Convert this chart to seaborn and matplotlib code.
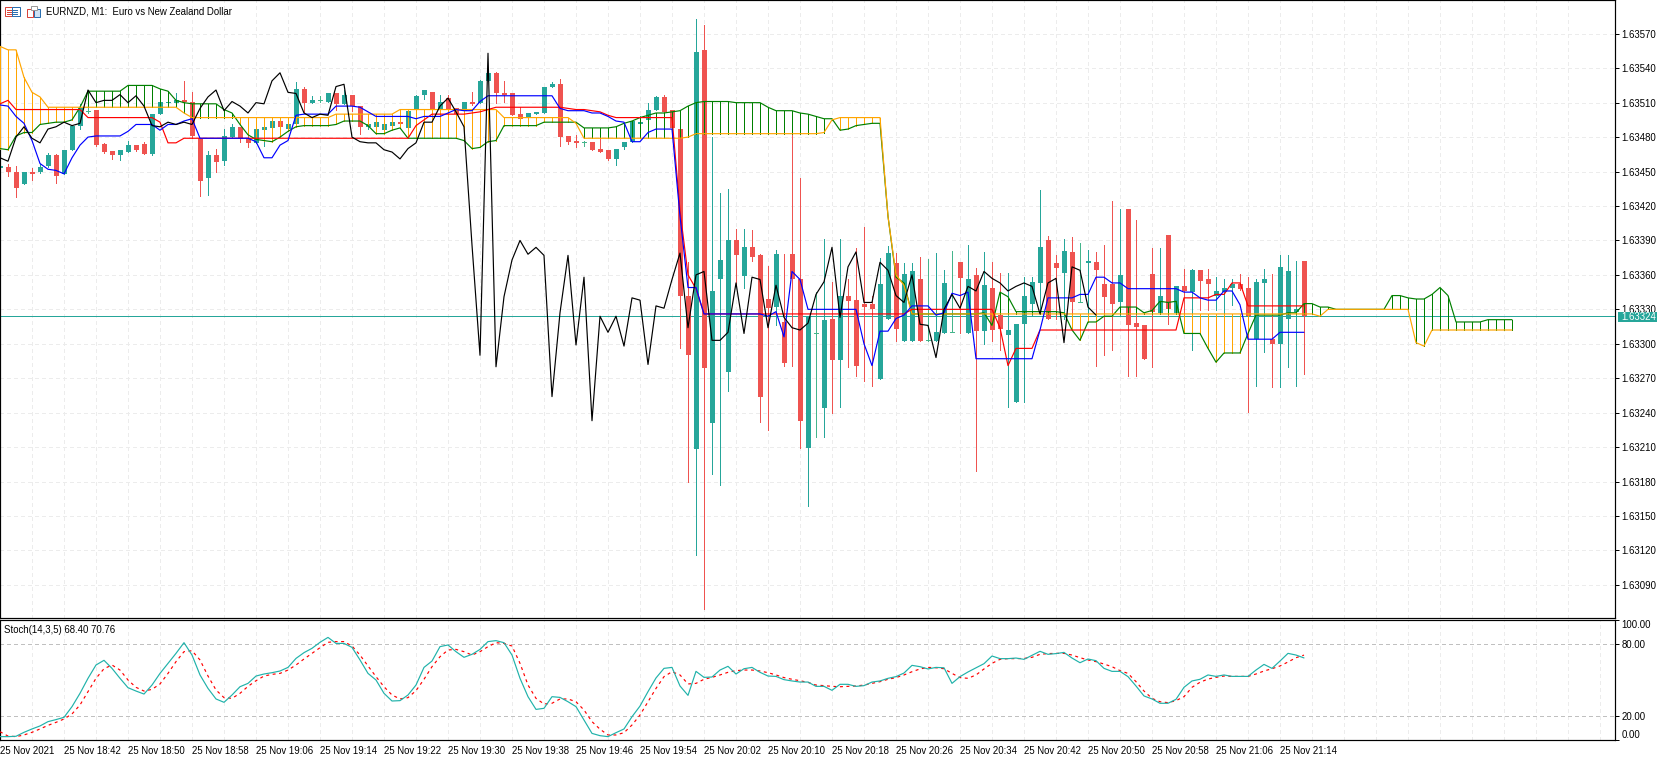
import numpy as np
import matplotlib
matplotlib.use("Agg")
import matplotlib.pyplot as plt
from matplotlib.patches import Rectangle
import seaborn as sns

# prices are kept as points above 1.63000
opens = [453,454,450,439,450,450,455,464,448,469,
         490,503,504,474,468,464,467,473,474,465,
         500,510,510,512,511,479,444,464,459,480,
         489,479,475,486,488,494,487,491,522,510,
         512,511,518,509,517,507,489,489,486,490,
         493,488,504,517,519,504,514,505,503,511,
         510,529,536,518,518,500,497,500,501,524,
         526,481,477,476,476,470,469,461,471,476,
         491,495,504,515,504,487,342,208,556,231,
         356,275,390,359,384,377,339,332,319,378,
         356,209,309,244,322,286,342,338,335,335,
         269,322,370,302,302,356,303,302,309,310,
         371,309,360,311,349,325,308,249,317,335,
         353,390,370,362,380,336,370,371,352,352,
         336,417,318,316,361,327,395,327,350,345,
         364,356,342,345,349,352,349,304,353,304,
         300,322,328,372]
highs = [455,457,455,450,453,457,466,465,469,490,
         509,506,504,475,468,469,477,473,476,500,
         511,515,518,529,519,479,468,470,487,491,
         489,486,487,489,494,494,491,528,524,516,
         516,518,518,521,517,507,491,493,491,493,
         493,503,517,521,519,517,517,505,511,519,
         530,537,537,529,518,506,501,502,524,528,
         531,481,482,477,476,478,469,470,476,494,
         498,510,516,517,504,488,371,583,578,480,
         431,435,400,400,399,378,368,382,378,483,
         444,324,345,391,354,391,356,383,402,342,
         375,385,379,370,370,376,374,379,364,381,
         371,386,366,380,371,362,362,317,358,358,
         434,394,377,391,393,388,382,380,386,424,
         417,417,408,316,383,383,395,350,365,365,
         364,365,358,356,356,361,358,356,365,361,
         377,377,372,372]
lows = [453,446,428,439,443,449,454,440,448,469,
        487,501,472,466,461,460,467,468,465,464,
        500,508,510,504,479,429,430,450,456,480,
        476,471,475,472,488,486,486,491,502,510,
        511,511,504,509,503,483,487,487,485,488,
        491,488,504,513,498,504,500,499,500,508,
        510,529,510,511,499,495,497,500,501,524,
        472,474,471,472,469,467,460,456,470,476,
        491,495,504,502,488,296,180,116,69,187,
        177,259,350,349,372,232,225,316,281,281,
        209,159,219,219,240,245,280,272,268,263,
        269,322,302,302,302,302,302,302,309,310,
        309,309,189,300,302,295,245,249,249,325,
        326,322,322,322,325,336,325,281,290,295,
        325,272,272,287,280,327,317,327,325,295,
        329,329,329,326,334,347,241,263,293,262,
        262,280,263,274]
closes = [455,450,436,450,448,454,464,446,469,490,
          505,503,473,467,464,469,473,469,465,500,
          511,511,512,511,481,442,464,458,481,489,
          479,475,487,489,494,489,491,522,510,512,
          512,518,509,517,507,489,491,493,491,493,
          491,503,516,521,504,511,504,500,511,509,
          529,536,518,517,499,496,501,502,524,526,
          480,476,475,476,469,467,461,470,476,494,
          493,504,515,502,488,342,290,554,279,346,
          373,390,377,384,376,254,331,378,283,356,
          233,324,309,321,286,342,337,281,332,330,
          352,379,313,361,363,302,303,310,353,310,
          357,356,311,351,312,313,312,317,342,354,
          384,322,366,381,336,336,372,364,341,335,
          360,316,315,287,328,342,330,350,346,364,
          355,352,346,349,352,348,324,354,356,300,
          367,363,330,324]

tenkan = [509,512,504,504,504,504,504,504,504,504,
          504,497,497,497,497,497,497,497,497,497,
          493,475,475,479,479,479,479,479,479,479,
          479,479,479,479,479,479,479,479,479,479,
          479,479,479,479,479,479,479,479,479,479,
          479,479,490,495,500,500,500,500,500,501,
          502,504,506,506,506,506,506,506,506,506,
          506,505,504,504,503,502,499,497,497,497,
          497,497,497,497,497,416,360,348,326,326,
          326,326,326,326,326,326,326,326,326,326,
          326,326,326,326,326,326,326,326,326,326,
          326,326,326,326,330,330,330,330,330,330,
          330,330,330,330,330,314,281,296,296,296,
          312,312,312,312,312,312,312,312,312,312,
          312,312,312,312,312,312,312,312,340,340,
          340,340,343,343,353,353,333,333,333,333,
          333,333,333,333]
kijun = [508,507,498,492,477,457,452,451,448,462,
         473,480,481,481,481,481,485,491,491,491,
         486,491,491,494,496,479,479,479,479,479,
         479,479,476,462,462,473,477,499,500,500,
         500,500,507,507,507,506,502,498,498,498,
         498,498,496,498,498,498,501,504,503,503,
         511,516,516,516,516,516,516,516,516,516,
         505,503,503,503,501,501,498,494,493,476,
         476,484,487,487,487,411,349,349,326,326,
         326,326,326,326,326,326,324,328,306,363,
         356,330,330,330,330,330,330,330,300,281,
         311,311,322,325,333,333,333,325,327,344,
         342,345,287,287,287,287,287,287,287,287,
         312,340,340,340,340,343,343,358,358,353,
         353,348,348,348,348,348,348,348,345,345,
         340,338,338,346,346,334,304,304,304,304,
         310,310,310,310]
chikou = [462,459,480,489,479,475,487,489,493,490,
          492,521,510,512,512,517,510,516,507,490,
          489,493,491,493,491,505,515,521,503,511,
          507,501,510,509,529,536,519,518,501,497,
          500,499,524,526,480,476,475,475,469,467,
          461,470,475,493,493,507,514,502,489,386,
          290,553,280,341,373,390,378,384,377,254,
          327,377,299,358,233,324,310,324,298,340,
          338,282,333,331,356,379,314,360,363,303,
          303,310,353,309,358,356,314,351,323,314,
          312,318,343,354,384,323,367,380,336,336,
          371,364,342,336,360,317,316,288,330,343,
          331,350,346,363,357,353,346,350,353,350,
          326,353,357,301,367,364,332,325]
senkou_a = [470,469,481,484,484,491,492,493,493,495,
            506,520,520,520,520,520,525,525,525,525,
            522,520,512,510,509,509,509,509,504,501,
            491,482,478,477,476,480,485,489,490,490,
            490,490,491,494,494,494,490,483,483,486,
            488,479,479,479,479,479,479,479,477,470,
            471,476,477,490,490,490,490,490,493,493,
            493,493,493,488,488,488,488,489,492,494,
            497,499,501,501,502,503,507,510,511,511,
            511,511,510,510,510,510,506,503,503,503,
            501,500,498,496,496,486,487,490,491,492,
            492,411,358,353,326,326,326,326,326,326,
            326,326,326,327,316,345,341,328,328,328,
            328,328,328,327,312,303,319,319,324,324,
            332,332,332,327,329,337,336,337,309,309,
            309,296,284,292,292,292,309,325,325,325,
            325,327,327,335,335,332,332,330,330,330,
            330,330,330,330,342,342,340,339,339,343,
            349,342,319,319,319,319,321,321,321,321]
senkou_b = [559,556,556,532,519,515,506,506,506,506,
            506,506,506,506,506,506,506,506,506,506,
            506,506,506,501,497,497,497,497,497,497,
            497,497,497,497,497,497,497,497,497,497,
            497,497,500,500,500,500,500,500,500,500,
            504,504,504,504,504,504,504,504,504,504,
            504,504,504,497,497,497,497,497,497,497,
            497,497,492,479,479,479,479,479,479,479,
            479,479,479,479,479,479,480,483,483,483,
            483,483,483,483,483,483,483,483,483,483,
            483,483,483,484,495,497,497,497,497,497,
            497,411,360,351,326,326,326,326,326,326,
            326,326,326,326,326,326,326,326,326,326,
            326,326,326,326,326,326,326,326,326,326,
            326,326,326,326,326,326,326,326,326,326,
            326,326,326,326,326,326,326,326,326,326,
            326,326,326,326,326,324,330,330,330,330,
            330,330,330,330,330,330,330,301,298,312,
            312,312,312,312,312,312,312,312,312,312]

stoch_main = [2.8,2.8,3.1,6.4,9.2,11.7,15.3,17,18.9,27.8,
              38.9,51.4,62.5,66.4,59.7,51.4,43.6,40.8,38.3,45.8,
              55.5,63.9,72.2,81.1,70.8,54.2,43,34.2,31.4,37.5,
              44.4,47.2,53.3,55,56.1,57.5,60.5,68,72.8,76.4,
              81.4,85.5,80.5,80.5,77.2,66.7,55.5,50,38.9,32.5,
              32.8,37.5,45.8,60.5,65.8,77.8,79.2,73.6,68.9,71.4,
              75.5,82,82.8,81.1,70.8,51.4,36.1,25.5,26.4,36.1,
              35.5,31.9,27.8,16.7,5.5,3.6,2.8,6.1,9.2,19.4,
              28.3,40.3,51.7,59.7,60.5,45,37.2,57.2,52.2,52.5,
              58.3,61.4,55,59.4,60.5,56.4,53.3,53,50.3,49.2,
              48.3,48.3,44.7,44.7,41.4,46.4,46.4,44.7,45.3,48.3,
              49.2,51.4,52.8,55.8,62.2,61.1,59.2,60.5,60.2,47.2,
              52.8,56.7,60.2,63.6,70,67.8,67.8,68.3,67.2,70.6,
              73.9,71.4,72,73,68.3,64.4,67.5,66.1,59.7,57.2,
              57.2,52.8,45,36.7,34.2,30.6,30.6,33.9,43.9,49.2,
              50.6,54.2,53,54.2,53,53,53,58.3,63,59.7,
              65.8,72.2,70.8,68.4]
stoch_signal = [6.9,3.3,2.8,4.2,6.4,9.2,12.2,14.7,17.5,21.7,
                29.2,40.3,51.4,59.4,62.5,58.3,50,43.9,40.8,42.2,
                46.7,55.5,65.3,73.6,74.4,66.7,53.3,41.7,35.3,34.7,
                38.9,44.7,49.4,53.3,54.7,55.5,58.3,62.5,67.5,72.2,
                76.9,81.4,82,82,78.3,70.8,61.7,52.8,44.4,37.5,
                34.2,35.3,41.1,50.6,61.1,69.4,75,75.5,73.6,70.8,
                73.6,77.8,81.1,80.5,78.3,63.9,45.8,34.7,30,30.6,
                34.2,34.2,31.9,25,15.3,9,4.2,4.2,6.1,12.5,
                20.8,31.9,43,52.8,56.9,54.2,46.7,47.2,50.6,52.2,
                54.2,56.4,57.8,58.3,58.3,57.5,56.1,54.2,52,50.6,
                49.4,48,45.8,45.3,44.7,44.4,44.7,45,45.8,47.2,
                48.6,50.6,52,54.2,56.9,59.2,60.5,60.2,59.4,55.5,
                52,51.4,54.2,59.2,63.9,67.2,67.8,67.8,68,68.9,
                71.4,72,72.2,72.2,70.8,68.6,66.7,65.3,63.3,61.1,
                57.8,55.5,48.6,40.8,34.7,31.9,31.1,32.8,36.1,43.9,
                48.1,50.8,52.2,53.3,53,53,53,55,57.5,59.4,
                61.7,65,68.6,70.76]

price_ticks = ["1.63090","1.63120","1.63150","1.63180","1.63210","1.63240","1.63270","1.63300",
               "1.63330","1.63360","1.63390","1.63420","1.63450","1.63480","1.63510","1.63540","1.63570"]
time_labels = ["25 Nov 2021","25 Nov 18:42","25 Nov 18:50","25 Nov 18:58","25 Nov 19:06","25 Nov 19:14",
               "25 Nov 19:22","25 Nov 19:30","25 Nov 19:38","25 Nov 19:46","25 Nov 19:54","25 Nov 20:02",
               "25 Nov 20:10","25 Nov 20:18","25 Nov 20:26","25 Nov 20:34","25 Nov 20:42","25 Nov 20:50",
               "25 Nov 20:58","25 Nov 21:06","25 Nov 21:14"]
last_price = 1.63324

TEAL = "#26a69a"
CANDLE_RED = "#ef5350"
DOJI = "#45b58c"
GRID = "#ececec"
W, H = 1670, 760
LW = 0.72  # one pixel at dpi 100
THIN = 0.85  # indicator lines


def px(v):
    return 1.63 + np.asarray(v, dtype=float) / 1e5


sns.set_theme(style="white", rc={"axes.edgecolor": "black", "axes.linewidth": LW, "grid.color": GRID,
                                 "grid.linewidth": LW, "xtick.color": "black", "ytick.color": "black"})
plt.rcParams["font.family"] = ["Liberation Sans", "DejaVu Sans"]

fig = plt.figure(figsize=(W / 100, H / 100), dpi=100, facecolor="white")
ax = fig.add_axes([0, 1 - 618 / H, 1615 / W, 618 / H])
sub = fig.add_axes([0, 1 - 740 / H, 1615 / W, 120 / H])

bars = np.arange(len(opens))
o, h, l, c = px(opens), px(highs), px(lows), px(closes)
colors = np.where(c > o, TEAL, np.where(c < o, CANDLE_RED, DOJI))
doji = c == o

ax.axhline(last_price, color=TEAL, linewidth=LW, zorder=1.5, antialiased=False)
ax.vlines(bars, l, h, colors=colors, linewidth=LW, zorder=2, antialiased=False)
ax.bar(bars[~doji], np.abs(c - o)[~doji], bottom=np.minimum(o, c)[~doji], width=5 / 8,
       color=colors[~doji], linewidth=0, zorder=2.1, antialiased=False)
ax.hlines(o[doji], bars[doji] - 0.3, bars[doji] + 0.3, colors=DOJI, linewidth=LW, zorder=2.1, antialiased=False)

# cloud, hatched on every bar in the colour of the upper line
cloud_bars = np.arange(len(senkou_a))
a, b = px(senkou_a), px(senkou_b)
hatch = np.where(a > b, "#008000", "#ffa500")
ax.vlines(cloud_bars, np.minimum(a, b), np.maximum(a, b), colors=hatch, linewidth=LW, zorder=3, antialiased=False)

line_kw = dict(ax=ax, estimator=None, linewidth=THIN)
sns.lineplot(x=cloud_bars, y=a, color="#008000", zorder=3.1, **line_kw)
sns.lineplot(x=cloud_bars, y=b, color="#ffa500", zorder=3.2, **line_kw)
sns.lineplot(x=bars, y=px(tenkan), color="#ff0000", zorder=3.3, **line_kw)
sns.lineplot(x=bars, y=px(kijun), color="#0000ff", zorder=3.4, **line_kw)
sns.lineplot(x=np.arange(len(chikou)), y=px(chikou), color="black", zorder=3.5, **line_kw)

ax.set_xlim(0, 1615 / 8)
ax.set_ylim(1.630612, 1.635994)
ax.set_yticks([float(t) for t in price_ticks], price_ticks)
ax.yaxis.tick_right()
ax.set_xticks(np.arange(0, 200, 8))
ax.set_xticks(np.arange(4, 200, 8), minor=True)
ax.tick_params(axis="x", which="both", length=0, labelbottom=False)
ax.tick_params(axis="y", length=3, width=LW, pad=1.5, labelsize=6.9)

sns.lineplot(x=bars, y=stoch_signal, ax=sub, color="#ff0000", linewidth=THIN, estimator=None,
             linestyle=(0, (2.5, 3)), zorder=3)
sns.lineplot(x=bars, y=stoch_main, ax=sub, color="#20b2aa", linewidth=THIN, estimator=None, zorder=3.1)
for level in (20, 80):
    sub.axhline(level, color="#c0c0c0", linewidth=LW, linestyle=(0, (4, 3)), zorder=2, antialiased=False)

sub.set_xlim(0, 1615 / 8)
sub.set_ylim(0, 100)
sub.set_yticks([0, 20, 80, 100], ["0.00", "20.00", "80.00", "100.00"])
sub.yaxis.tick_right()
sub.tick_params(axis="y", length=3, width=LW, pad=1.5, labelsize=6.9)
ylabels = sub.get_yticklabels()
ylabels[0].set_va("bottom")
ylabels[3].set_va("top")
sub.set_xticks(np.arange(0, 8 * len(time_labels), 8), time_labels, ha="left")
sub.set_xticks(np.arange(4, 200, 8), minor=True)
sub.tick_params(axis="x", which="major", length=4.3, width=LW, pad=0, labelsize=6.9)
sub.tick_params(axis="x", which="minor", length=0)

for axis in (ax, sub):
    axis.set_xlabel("")
    axis.set_ylabel("")
    axis.set_axisbelow(True)
    axis.grid(True, axis="x", which="both", color=GRID, linewidth=LW, linestyle=(0, (4, 4)), antialiased=False)
    for side in ("top", "left", "right", "bottom"):
        axis.spines[side].set_visible(True)
        axis.spines[side].set_linewidth(LW * 1.2)
ax.grid(True, axis="y", color=GRID, linewidth=LW, linestyle=(0, (4, 4)), antialiased=False)
# the time grid goes on past the last labelled bar
for k in np.arange(168, 204, 8):
    sub.axvline(k, color=GRID, linewidth=LW, linestyle=(0, (4, 4)), zorder=0.5, antialiased=False)


def fig_text(x, y, s, **kw):
    fig.text(x / W, 1 - y / H, s, va="center", fontsize=kw.pop("fontsize", 6.9), **kw)


def fig_box(x0, y0, x1, y1, **kw):
    fig.add_artist(Rectangle((x0 / W, 1 - y1 / H), (x1 - x0) / W, (y1 - y0) / H, transform=fig.transFigure, **kw))


fig_text(46, 11.5, "EURNZD, M1:  Euro vs New Zealand Dollar", color="black", fontsize=6.9)
fig_text(3.5, 630, "Stoch(14,3,5) 68.40 70.76", color="black")

# the two small chart icons next to the title
fig_box(5, 7, 13, 16, facecolor="white", edgecolor="#d9443a", linewidth=LW)
fig_box(12, 7, 20, 16, facecolor="white", edgecolor="#2a6fb0", linewidth=LW)
for y in (9.5, 11.5, 13.5):
    fig_box(7, y, 12, y + 1, facecolor="#d9443a", linewidth=0)
    fig_box(13, y, 18, y + 1, facecolor="#2a6fb0", linewidth=0)
fig_box(27, 9, 33, 17, facecolor="white", edgecolor="#d9443a", linewidth=LW)
fig_box(34, 9, 40, 17, facecolor="#cfe3f5", edgecolor="#2a6fb0", linewidth=LW)
fig_box(31, 6, 37, 10, facecolor="white", edgecolor="#9a9a9a", linewidth=LW)

# current price flag on the right scale
fig_box(1618, 312, 1657, 322, facecolor=TEAL, linewidth=0, zorder=5)
fig_text(1621, 317, "1.63324", color="white", zorder=6)

fig.savefig("out.png", dpi=100, facecolor="white")
